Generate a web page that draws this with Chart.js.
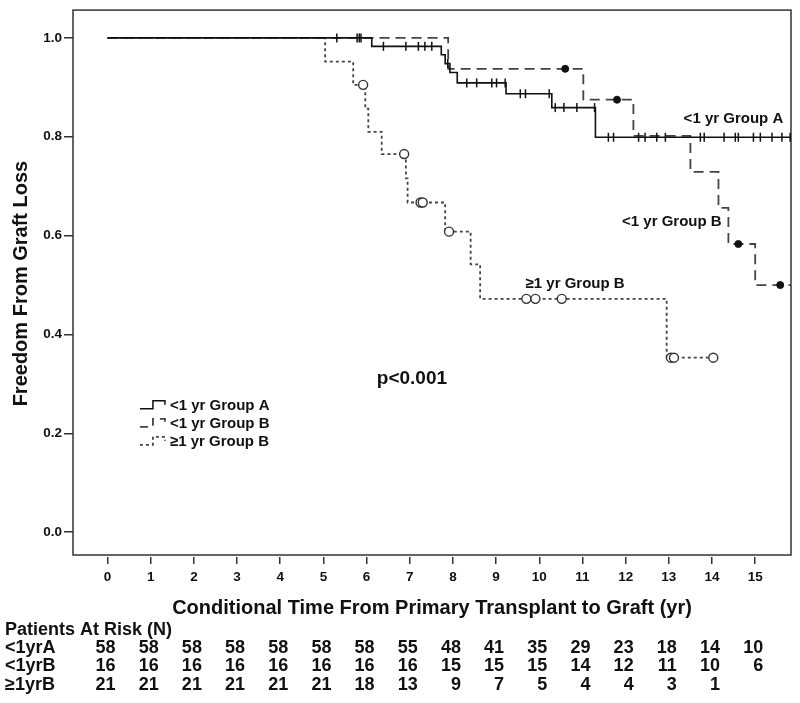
<!DOCTYPE html>
<html>
<head>
<meta charset="utf-8">
<script src="https://cdn.jsdelivr.net/npm/chart.js@4.4.1/dist/chart.umd.min.js"></script>
<style>
  html, body { margin: 0; padding: 0; background: #fff; }
</style>
</head>
<body>
<canvas id="km" width="800" height="703"></canvas>
<script>
// Axis ticks
const xTicks = [0, 1, 2, 3, 4, 5, 6, 7, 8, 9, 10, 11, 12, 13, 14, 15];
const yTicks = [0, 0.2, 0.4, 0.6, 0.8, 1.0];

// <1 yr Group A (solid)
const groupATimes = [0, 6.12, 7.73, 7.82, 7.93, 8.1, 9.23, 10.29, 11.3, 15.83];
const groupASurv = [1, 0.983, 0.966, 0.948, 0.93, 0.909, 0.887, 0.859, 0.799, 0.799];
const groupACensorTimes = [5.31, 5.78, 5.83, 5.87, 6.39, 6.91, 7.2, 7.35, 7.51, 7.88,
  8.32, 8.55, 8.9, 9.01, 9.21, 9.56, 9.68, 10.23, 10.37, 10.57, 10.87, 11.28,
  11.6, 11.72, 12.3, 12.45, 12.72, 12.92, 13.73, 13.82, 14.28, 14.54, 14.61, 14.96,
  15.12, 15.39, 15.62, 15.81];
const groupACensorSurv = [1, 1, 1, 1, 0.983, 0.983, 0.983, 0.983, 0.983, 0.948,
  0.909, 0.909, 0.909, 0.909, 0.909, 0.887, 0.887, 0.887, 0.859, 0.859, 0.859, 0.859,
  0.799, 0.799, 0.799, 0.799, 0.799, 0.799, 0.799, 0.799, 0.799, 0.799, 0.799, 0.799,
  0.799, 0.799, 0.799, 0.799];

// <1 yr Group B (dashed)
const groupBTimes = [0, 7.89, 11.02, 12.18, 13.5, 14.15, 14.38, 15.0, 15.83];
const groupBSurv = [1, 0.9375, 0.875, 0.802, 0.729, 0.656, 0.583, 0.5, 0.5];
const groupBCensorTimes = [10.6, 11.8, 14.61, 15.58];
const groupBCensorSurv = [0.9375, 0.875, 0.583, 0.5];

// >=1 yr Group B (dotted)
const groupCTimes = [0, 5.04, 5.69, 5.97, 6.04, 6.35, 6.91, 6.95, 7.82, 8.41, 8.63, 12.95, 14.03];
const groupCSurv = [1, 0.952, 0.905, 0.857, 0.81, 0.765, 0.716, 0.667, 0.608, 0.542, 0.472, 0.353, 0.353];
const groupCCensorTimes = [5.92, 6.87, 7.25, 7.3, 7.91, 9.7, 9.91, 10.52, 13.05, 13.12, 14.03];
const groupCCensorSurv = [0.905, 0.765, 0.667, 0.667, 0.608, 0.472, 0.472, 0.472, 0.353, 0.353, 0.353];

// Patients at risk table
const riskTitle = "Patients At Risk (N)";
const riskLabels = ["<1yrA", "<1yrB", "\u22651yrB"];
const riskA = [58, 58, 58, 58, 58, 58, 58, 55, 48, 41, 35, 29, 23, 18, 14, 10];
const riskB = [16, 16, 16, 16, 16, 16, 16, 16, 15, 15, 15, 14, 12, 11, 10, 6];
const riskC = [21, 21, 21, 21, 21, 21, 18, 13, 9, 7, 5, 4, 4, 3, 1];

const FONT = '"Liberation Sans", Arial, sans-serif';
const NARROW = '"Liberation Sans Narrow", "Arial Narrow", "Liberation Sans", sans-serif';

function pts(xs, ys) {
  return xs.map((x, i) => ({ x: x, y: ys[i] }));
}

// frame, curve labels, legend and risk table
const extras = {
  id: "extras",
  beforeDatasetsDraw(chart) {
    const { ctx, chartArea: a } = chart;
    ctx.save();
    ctx.strokeStyle = "#333";
    ctx.lineWidth = 1.5;
    ctx.strokeRect(a.left, a.top, a.right - a.left, a.bottom - 2 - a.top);
    ctx.restore();
  },
  afterDatasetsDraw(chart) {
    const { ctx } = chart;
    const xs = chart.scales.x;
    const ys = chart.scales.y;
    ctx.save();
    ctx.fillStyle = "#111";
    ctx.textBaseline = "middle";

    // curve labels
    ctx.font = "bold 15px " + FONT;
    ctx.textAlign = "right";
    ctx.fillText("<1 yr Group A", xs.getPixelForValue(15.65), ys.getPixelForValue(0.836));
    ctx.textAlign = "center";
    ctx.fillText("<1 yr Group B", xs.getPixelForValue(13.07), ys.getPixelForValue(0.628));
    ctx.fillText("\u22651 yr Group B", xs.getPixelForValue(10.83), ys.getPixelForValue(0.503));
    ctx.font = "bold 19px " + FONT;
    ctx.fillText("p<0.001", xs.getPixelForValue(7.05), ys.getPixelForValue(0.31));

    // legend
    const lx = xs.getPixelForValue(0.75);
    const ly = ys.getPixelForValue(0.2555);
    const legendItems = [
      { text: "<1 yr Group A", dash: [], color: "#111", w: 1.5 },
      { text: "<1 yr Group B", dash: [8, 6], color: "#444", w: 1.8 },
      { text: "\u22651 yr Group B", dash: [3, 3], color: "#444", w: 1.8 }
    ];
    legendItems.forEach((it, i) => {
      const y = ly + i * 18;
      ctx.save();
      ctx.setLineDash(it.dash);
      ctx.strokeStyle = it.color;
      ctx.lineWidth = it.w;
      ctx.beginPath();
      ctx.moveTo(lx, y + 3);
      ctx.lineTo(lx + 13, y + 3);
      ctx.lineTo(lx + 13, y - 5);
      ctx.lineTo(lx + 25, y - 5);
      ctx.lineTo(lx + 25, y - 1);
      ctx.stroke();
      ctx.restore();
      ctx.font = "bold 15px " + FONT;
      ctx.textAlign = "left";
      ctx.fillText(it.text, lx + 30, y);
    });

    // risk table
    ctx.font = "bold 18px " + NARROW;
    ctx.textAlign = "left";
    ctx.fillText(riskTitle, 5, 630);
    const rows = [riskA, riskB, riskC];
    rows.forEach((row, r) => {
      const y = 648 + r * 18.5;
      ctx.textAlign = "left";
      ctx.fillText(riskLabels[r], 5, y);
      ctx.textAlign = "right";
      row.forEach((n, i) => {
        ctx.fillText(String(n), xs.getPixelForValue(xTicks[i]) + 8, y);
      });
    });
    ctx.restore();
  }
};

const tickFont = { family: FONT, size: 13.5, weight: "bold" };
const titleFont = { family: FONT, size: 20, weight: "bold" };

new Chart(document.getElementById("km"), {
  type: "line",
  data: {
    datasets: [
      {
        data: pts(groupATimes, groupASurv),
        order: 1,
        stepped: "before",
        borderColor: "#111",
        borderWidth: 1.6,
        pointRadius: 0,
        fill: false
      },
      {
        data: pts(groupBTimes, groupBSurv),
        order: 1,
        stepped: "before",
        borderColor: "#444",
        borderWidth: 1.8,
        borderDash: [10, 6],
        pointRadius: 0,
        fill: false
      },
      {
        data: pts(groupCTimes, groupCSurv),
        order: 1,
        stepped: "before",
        borderColor: "#444",
        borderWidth: 1.8,
        borderDash: [3, 3],
        pointRadius: 0,
        fill: false
      },
      {
        data: pts(groupACensorTimes, groupACensorSurv),
        order: 0,
        showLine: false,
        pointStyle: "line",
        rotation: 90,
        pointRadius: 4.5,
        pointBorderWidth: 1.5,
        pointBorderColor: "#111"
      },
      {
        data: pts(groupBCensorTimes, groupBCensorSurv),
        order: 0,
        showLine: false,
        pointStyle: "circle",
        pointRadius: 3.5,
        pointBorderWidth: 1,
        pointBackgroundColor: "#111",
        pointBorderColor: "#111"
      },
      {
        data: pts(groupCCensorTimes, groupCCensorSurv),
        order: 0,
        showLine: false,
        pointStyle: "circle",
        pointRadius: 4.5,
        pointBorderWidth: 1.4,
        pointBackgroundColor: "#fff",
        pointBorderColor: "#333"
      }
    ]
  },
  options: {
    responsive: false,
    animation: false,
    layout: { padding: { left: 0, top: 7, right: 9, bottom: 0 } },
    plugins: {
      legend: { display: false },
      tooltip: { enabled: false }
    },
    scales: {
      x: {
        type: "linear",
        min: -0.8,
        max: 15.83,
        afterBuildTicks: (s) => { s.ticks = xTicks.map((v) => ({ value: v })); },
        afterFit: (s) => { s.height = 146; },
        border: { display: false },
        grid: { drawOnChartArea: false, drawTicks: true, tickLength: 7, color: "#333", lineWidth: 1.5 },
        ticks: { font: tickFont, color: "#111", padding: 5, maxRotation: 0, autoSkip: false },
        title: {
          display: true,
          text: "Conditional Time From Primary Transplant to Graft (yr)",
          font: titleFont,
          color: "#111",
          padding: { top: 0, bottom: 83 }
        }
      },
      y: {
        type: "linear",
        min: -0.0503,
        max: 1.0563,
        afterBuildTicks: (s) => { s.ticks = yTicks.map((v) => ({ value: v })); },
        afterFit: (s) => { s.width = 73; },
        border: { display: false },
        grid: { drawOnChartArea: false, drawTicks: true, tickLength: 9, color: "#333", lineWidth: 1.5 },
        ticks: {
          font: tickFont,
          color: "#111",
          padding: 2,
          callback: (v) => Number(v).toFixed(1)
        },
        title: {
          display: true,
          text: "Freedom From Graft Loss",
          font: titleFont,
          color: "#111",
          padding: { top: 9, bottom: 0 }
        }
      }
    }
  },
  plugins: [extras]
});
</script>
</body>
</html>
